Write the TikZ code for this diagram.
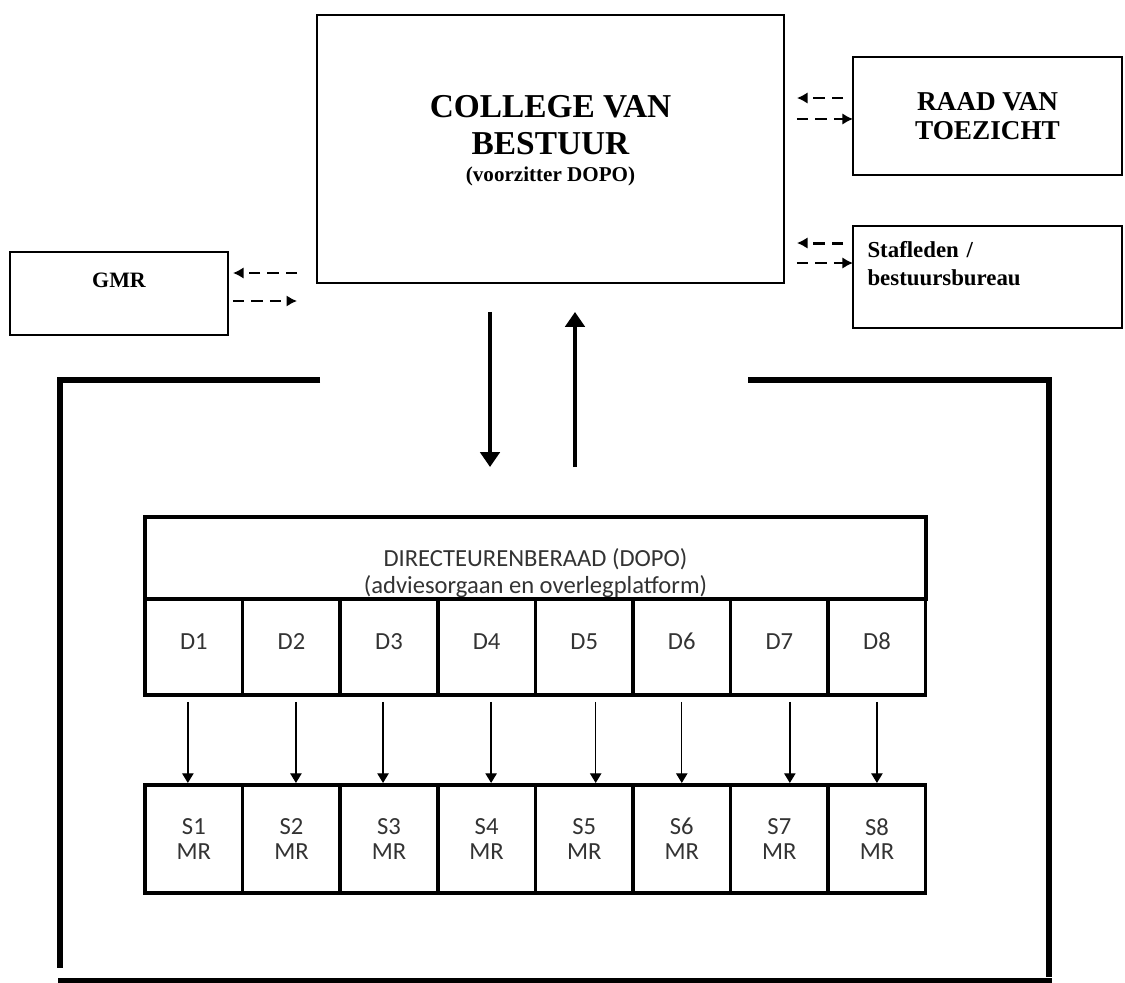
\documentclass[tikz,border=0pt]{standalone}
\usepackage{fontspec}
\setmainfont{Liberation Serif}
\newfontfamily\cellfont{Carlito}
\usetikzlibrary{arrows.meta,positioning,calc}
\tikzset{
  orgblock/.style={
    draw,
    line width=1.5pt,
    align=center,
    inner sep=0pt,
    outer sep=0pt
  },
  orgcell/.style={
    draw,
    line width=2pt,
    align=center,
    font=\cellfont\fontsize{14}{14}\selectfont,
    text=black!80,
    minimum width=1.952cm,
    inner sep=0pt,
    outer sep=0pt
  },
  orgdcell/.style={
    orgcell,
    minimum height=1.92cm,
    text height=9pt,
    text depth=5.7pt
  },
  orgarrow/.style={
    -{Triangle[length=8.5pt,width=11pt]},
    line width=2.8pt
  },
  orglink/.style={
    -{Triangle[length=5.5pt,width=6.5pt]},
    line width=0.75pt
  },
  orgdash/.style={
    -{Latex[length=6pt,width=6.5pt]},
    line width=1.7pt,
    dash pattern=on 6.5pt off 4pt
  },
  orgframe/.style={
    line width=3pt
  }
}

\begin{document}
\begin{tikzpicture}[x=0.02cm,y=-0.02cm]
    \useasboundingbox (0,0) rectangle (1125,983);

    \node[orgblock, minimum width=9.34cm, minimum height=5.36cm, font=\bfseries\fontsize{19}{21}\selectfont] (college) at (550.5,149)
      {COLLEGE VAN\\BESTUUR\\[-5.3pt]{\fontsize{12}{16}\selectfont (voorzitter DOPO)}\\[-9pt]\mbox{}};
    \node[orgblock, minimum width=5.38cm, minimum height=2.36cm, font=\bfseries\fontsize{15.5}{16.5}\selectfont] (raad) at (987.5,116)
      {RAAD VAN\\TOEZICHT};
    \node[orgblock, minimum width=5.38cm, minimum height=2.04cm, align=left, text width=4.8cm, font=\bfseries\fontsize{13}{15.4}\selectfont] (staf) at (987.5,277)
      {Stafleden /\\bestuursbureau\\\mbox{}};
    \node[orgblock, minimum width=4.36cm, minimum height=1.66cm, font=\bfseries\fontsize{12.5}{15}\selectfont] (gmr) at (119,293.5)
      {GMR\\\mbox{}};

    \node[orgcell, minimum width=15.62cm, minimum height=1.64cm] (dopo) at (535.5,558) {};
    \node[font=\cellfont\fontsize{14}{15}\selectfont, text=black!80, align=center] (dopotext)
      at ($(dopo.center)+(0,15)$) {DIRECTEURENBERAAD (DOPO)\\(adviesorgaan en overlegplatform)};

    \node[orgdcell, anchor=north west] (d1) at (dopo.south west) {D1};
    \node[orgdcell, right=0pt of d1] (d2) {D2};
    \node[orgdcell, right=0pt of d2] (d3) {D3};
    \node[orgdcell, right=0pt of d3] (d4) {D4};
    \node[orgdcell, right=0pt of d4] (d5) {D5};
    \node[orgdcell, right=0pt of d5] (d6) {D6};
    \node[orgdcell, right=0pt of d6] (d7) {D7};
    \node[orgdcell, right=0pt of d7] (d8) {D8};

    \node[orgcell, minimum height=2.16cm, below=1.8cm of d1] (s1) {S1\\MR};
    \node[orgcell, minimum height=2.16cm, right=0pt of s1] (s2) {S2\\MR};
    \node[orgcell, minimum height=2.16cm, right=0pt of s2] (s3) {S3\\MR};
    \node[orgcell, minimum height=2.16cm, right=0pt of s3] (s4) {S4\\MR};
    \node[orgcell, minimum height=2.16cm, right=0pt of s4] (s5) {S5\\MR};
    \node[orgcell, minimum height=2.16cm, right=0pt of s5] (s6) {S6\\MR};
    \node[orgcell, minimum height=2.16cm, right=0pt of s6] (s7) {S7\\MR};
    \node[orgcell, minimum height=2.16cm, right=0pt of s7] (s8) {S8\\MR};

    % frame round the schools
    \draw[orgframe] (320,380) -- (60,380) -- (60,968);
    \draw[orgframe] (748,380) -- (1049,380) -- (1049,977);
    \draw[orgframe] (58,981) -- (1052,981);

    \draw[orgarrow, shorten <=0.58cm, shorten >=1cm] ([xshift=-1.21cm]college.south) -- ([xshift=-1.21cm]college.south |- dopo.north);
    \draw[orgarrow, shorten <=1cm, shorten >=0.58cm] ([xshift=0.49cm]college.south |- dopo.north) -- ([xshift=0.49cm]college.south);

    \draw[orgdash, shorten <=0.2cm, shorten >=0.26cm] ([yshift=0.36cm]raad.west) -- ([yshift=0.36cm]raad.west -| college.east);
    \draw[orgdash, shorten <=0.26cm] ([yshift=-0.06cm]raad.west -| college.east) -- ([yshift=-0.06cm]raad.west);
    \draw[orgdash, shorten <=0.2cm, shorten >=0.26cm] ([yshift=0.68cm]staf.west) -- ([yshift=0.68cm]staf.west -| college.east);
    \draw[orgdash, shorten <=0.26cm] ([yshift=0.28cm]staf.west -| college.east) -- ([yshift=0.28cm]staf.west);
    \draw[orgdash, shorten <=0.4cm, shorten >=0.1cm] ([yshift=0.41cm]gmr.east -| college.west) -- ([yshift=0.41cm]gmr.east);
    \draw[orgdash, shorten <=0.1cm, shorten >=0.4cm] ([yshift=-0.15cm]gmr.east) -- ([yshift=-0.15cm]gmr.east -| college.west);

    \draw[orglink, shorten <=0.14cm, shorten >=0.04cm] ([xshift=-0.12cm]d1.south) -- ([xshift=-0.12cm]s1.north);
    \draw[orglink, shorten <=0.14cm, shorten >=0.04cm] ([xshift=0.09cm]d2.south) -- ([xshift=0.09cm]s2.north);
    \draw[orglink, shorten <=0.14cm, shorten >=0.04cm] ([xshift=-0.12cm]d3.south) -- ([xshift=-0.12cm]s3.north);
    \draw[orglink, shorten <=0.14cm, shorten >=0.04cm] ([xshift=0.09cm]d4.south) -- ([xshift=0.09cm]s4.north);
    \draw[orglink, shorten <=0.14cm, shorten >=0.04cm] ([xshift=0.23cm]d5.south) -- ([xshift=0.23cm]s5.north);
    \draw[orglink, shorten <=0.14cm, shorten >=0.04cm] (d6.south) -- (s6.north);
    \draw[orglink, shorten <=0.14cm, shorten >=0.04cm] ([xshift=0.21cm]d7.south) -- ([xshift=0.21cm]s7.north);
    \draw[orglink, shorten <=0.14cm, shorten >=0.04cm] (d8.south) -- (s8.north);
  \end{tikzpicture}
\end{document}
